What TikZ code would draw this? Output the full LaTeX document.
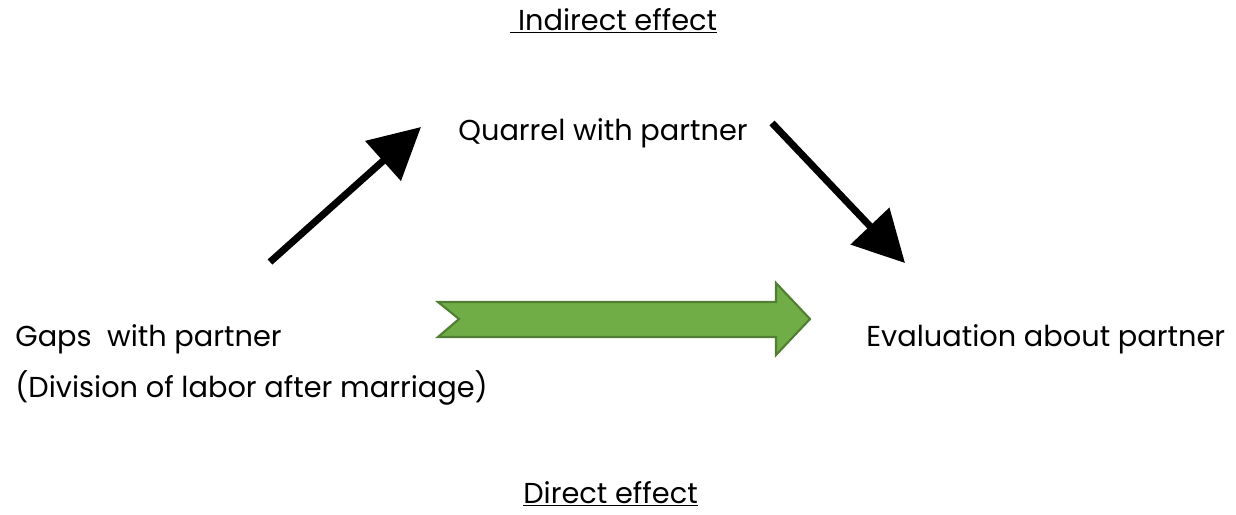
\documentclass[tikz,border=0pt]{standalone}
\usepackage{fontspec}
\setmainfont{Poppins}
\usetikzlibrary{arrows.meta}
\definecolor{arrowgreen}{HTML}{70AD47}
\definecolor{arrowedge}{HTML}{507E32}
\tikzset{
  label/.style={anchor=base west, inner sep=0pt, font=\fontsize{16.4}{20}\selectfont},
  blackarrow/.style={line width=0.14cm, -{Triangle[length=1.02cm, width=1.04cm]}},
}
\begin{document}
\begin{tikzpicture}[x=0.02cm, y=-0.02cm]
    \useasboundingbox (0,0) rectangle (1236,514);

    \node[label] (indirect) at (510,30) {\underline{\ Indirect effect}};
    \node[label] (quarrel) at (458,140) {Quarrel with partner};
    \node[label] (gaps) at (15,346) {Gaps\ \ with partner};
    \node[label] (division) at (15,397) {(Division of labor after marriage)};
    \node[label] (evaluation) at (866,346) {Evaluation about partner};
    \node[label] (direct) at (523,503) {\underline{Direct effect}};

    % indirect path
    \coordinate (up-tail) at (270,262);
    \coordinate (up-tip) at (421,127);
    \draw[blackarrow] (up-tail) -- (up-tip);
    \coordinate (down-tail) at (772,123);
    \coordinate (down-tip) at (905,263);
    \draw[blackarrow] (down-tail) -- (down-tip);

    % direct path
    \filldraw[fill=arrowgreen, draw=arrowedge, line width=1.2pt, line join=miter]
        (438,302) -- (776,302) -- (776,283) -- (810,319) -- (776,355)
        -- (776,337) -- (438,337) -- (459,319) -- cycle;
\end{tikzpicture}
\end{document}
